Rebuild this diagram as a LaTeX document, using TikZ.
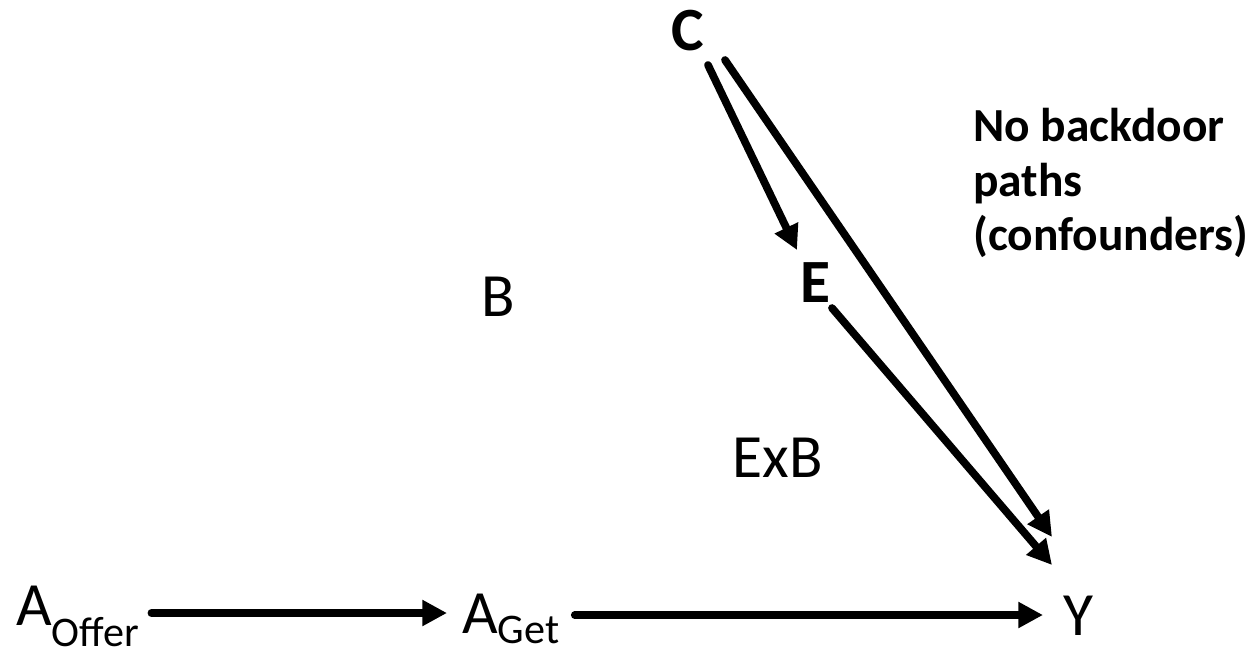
\documentclass[tikz,border=0pt]{standalone}
\usepackage{fontspec}
\setmainfont{Carlito}
\usetikzlibrary{arrows.meta, positioning, calc}
\definecolor{inkdag}{HTML}{000000}
\newcommand{\lowtext}[2][10pt]{\raisebox{-#1}{\fontsize{24}{28}\selectfont #2}}
\newcommand{\dagvar}[4]{%
  \node[anchor=base, inner sep=0pt, text=inkdag] (#1) at (#2,#3) {#4};}

\begin{document}
\begin{tikzpicture}[x=0.02cm, y=-0.02cm, font=\fontsize{35}{42}\selectfont,
    arr/.style={-{Triangle[length=14pt, width=14pt]}, inkdag,
                line width=4.4pt, line cap=round}]
      \useasboundingbox (0,0) rectangle (1258,654);
      \node[anchor=base west, inner sep=0pt] (aoffer) at (16,625)
            {A\lowtext[12pt]{Offer}};
      \node[anchor=base west, inner sep=0pt] (aget) at (462,633)
            {A\lowtext[6pt]{Get}};
      \node[anchor=base west, inner sep=0pt] (y) at (1063,635) {Y};
      \dagvar{b}{498}{316}{B}
      \dagvar{exb}{778}{477}{ExB}
      \dagvar{c}{688}{50}{\bfseries C}
      \dagvar{e}{815}{302}{\bfseries E}
      \node[anchor=north west, inner sep=0pt, align=left,
            font=\fontsize{27}{31}\selectfont\bfseries] (note) at (973,108)
            {No backdoor\\paths\\(confounders)};
      \draw[arr] ($(aoffer.base east)+(12,-12)$) -- ($(aget.base west)+(-15,-20)$);
      \draw[arr] ($(aget.base east)+(15,-18)$) -- ($(y.base west)+(-20,-20)$);
      \draw[arr] ($(c.base)+(20,15)$) -- ($(e.base)+(-18,-52)$);
      \draw[arr] ($(c.base)+(37,10)$) -- ($(y.base west)+(-11,-98)$);
      \draw[arr] ($(e.base)+(17,6)$) -- ($(y.base west)+(-11,-70)$);
    \end{tikzpicture}
\end{document}
